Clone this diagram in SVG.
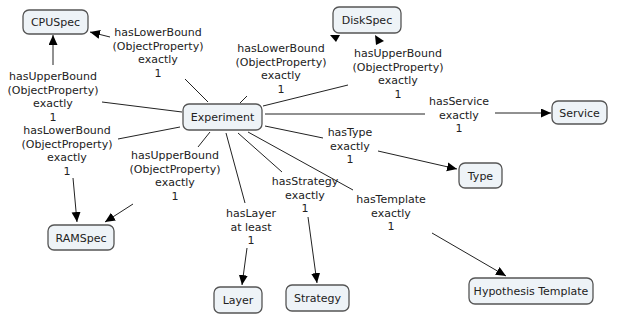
<svg xmlns="http://www.w3.org/2000/svg" width="618" height="330" viewBox="0 0 618 330">
<defs>
<marker id="ah" markerUnits="userSpaceOnUse" markerWidth="11" markerHeight="10" refX="10" refY="4.5" orient="auto">
<path d="M0,0 L10,4.5 L0,9 z" fill="#000"/>
</marker>
<style>
.n rect{fill:#eef3f7;stroke:#555;stroke-width:1.3}
.n text{font-family:"DejaVu Sans",Verdana,sans-serif;font-size:11px;fill:#222;text-anchor:middle}
.lb{font-family:"DejaVu Sans",Verdana,sans-serif;font-size:11px;fill:#222;text-anchor:middle}
.c line{stroke:#222;stroke-width:1}
.c line.a{marker-end:url(#ah)}
</style>
</defs>
<rect width="618" height="330" fill="#fff"/>
<g class="c" id="connectors">
<line x1="208" y1="102" x2="185" y2="79"/>
<line class="a" x1="110" y1="37" x2="90" y2="32"/>
<line x1="182" y1="112" x2="102" y2="102"/>
<line class="a" x1="53" y1="65" x2="53" y2="35"/>
<line x1="240" y1="103" x2="247" y2="96"/>
<polygon points="330,35 340,35 336,42" fill="#000"/>
<line x1="263" y1="106" x2="348" y2="85"/>
<polygon points="375,35 384,41 376,45" fill="#000"/>
<line x1="265" y1="114" x2="425" y2="114"/>
<line class="a" x1="495" y1="113" x2="551" y2="113"/>
<line x1="265" y1="126" x2="323" y2="138"/>
<line class="a" x1="378" y1="151" x2="457" y2="169"/>
<line x1="238" y1="133" x2="282" y2="172"/>
<line class="a" x1="308" y1="217" x2="317" y2="283"/>
<line x1="248" y1="132" x2="353" y2="190"/>
<line class="a" x1="432" y1="233" x2="506" y2="276"/>
<line x1="226" y1="133" x2="245" y2="203"/>
<line class="a" x1="247" y1="248" x2="242" y2="285"/>
<line x1="180" y1="127" x2="118" y2="139"/>
<line class="a" x1="73" y1="178" x2="77" y2="222"/>
<line x1="210" y1="132" x2="198" y2="147"/>
<line class="a" x1="133" y1="204" x2="105" y2="222"/>
<text class="lb" x="158" y="36"><tspan x="158">hasLowerBound</tspan><tspan x="158" dy="13.6">(ObjectProperty)</tspan><tspan x="158" dy="13.6">exactly</tspan><tspan x="158" dy="13.6">1</tspan></text>
<text class="lb" x="53" y="80"><tspan x="53">hasUpperBound</tspan><tspan x="53" dy="13.6">(ObjectProperty)</tspan><tspan x="53" dy="13.6">exactly</tspan><tspan x="53" dy="13.6">1</tspan></text>
<text class="lb" x="281" y="52"><tspan x="281">hasLowerBound</tspan><tspan x="281" dy="13.6">(ObjectProperty)</tspan><tspan x="281" dy="13.6">exactly</tspan><tspan x="281" dy="13.6">1</tspan></text>
<text class="lb" x="398" y="57"><tspan x="398">hasUpperBound</tspan><tspan x="398" dy="13.6">(ObjectProperty)</tspan><tspan x="398" dy="13.6">exactly</tspan><tspan x="398" dy="13.6">1</tspan></text>
<text class="lb" x="459" y="105"><tspan x="459">hasService</tspan><tspan x="459" dy="13.6">exactly</tspan><tspan x="459" dy="13.6">1</tspan></text>
<text class="lb" x="350" y="136"><tspan x="350">hasType</tspan><tspan x="350" dy="13.6">exactly</tspan><tspan x="350" dy="13.6">1</tspan></text>
<text class="lb" x="305" y="185"><tspan x="305">hasStrategy</tspan><tspan x="305" dy="13.6">exactly</tspan><tspan x="305" dy="13.6">1</tspan></text>
<text class="lb" x="391" y="203"><tspan x="391">hasTemplate</tspan><tspan x="391" dy="13.6">exactly</tspan><tspan x="391" dy="13.6">1</tspan></text>
<text class="lb" x="251" y="217"><tspan x="251">hasLayer</tspan><tspan x="251" dy="13.6">at least</tspan><tspan x="251" dy="13.6">1</tspan></text>
<text class="lb" x="67" y="134"><tspan x="67">hasLowerBound</tspan><tspan x="67" dy="13.6">(ObjectProperty)</tspan><tspan x="67" dy="13.6">exactly</tspan><tspan x="67" dy="13.6">1</tspan></text>
<text class="lb" x="175" y="159"><tspan x="175">hasUpperBound</tspan><tspan x="175" dy="13.6">(ObjectProperty)</tspan><tspan x="175" dy="13.6">exactly</tspan><tspan x="175" dy="13.6">1</tspan></text>
</g>
<g class="n" id="cpuspec"><rect x="23" y="10" width="65" height="24" rx="6"/><text x="55.5" y="26">CPUSpec</text></g>
<g class="n" id="diskspec"><rect x="333" y="7" width="68" height="26" rx="6"/><text x="367" y="24">DiskSpec</text></g>
<g class="n" id="experiment"><rect x="183" y="104" width="79" height="26" rx="6"/><text x="222.5" y="121">Experiment</text></g>
<g class="n" id="service"><rect x="552" y="101" width="55" height="23" rx="6"/><text x="579.5" y="116.5">Service</text></g>
<g class="n" id="type"><rect x="459" y="163" width="43" height="25" rx="6"/><text x="480.5" y="179.5">Type</text></g>
<g class="n" id="ramspec"><rect x="48" y="225" width="66" height="25" rx="6"/><text x="81" y="241.5">RAMSpec</text></g>
<g class="n" id="layer"><rect x="214" y="287" width="48" height="26" rx="6"/><text x="238" y="304">Layer</text></g>
<g class="n" id="strategy"><rect x="286" y="285" width="63" height="26" rx="6"/><text x="317.5" y="302">Strategy</text></g>
<g class="n" id="hypothesis"><rect x="469" y="278" width="124" height="26" rx="6"/><text x="531" y="295">Hypothesis Template</text></g>
</svg>
